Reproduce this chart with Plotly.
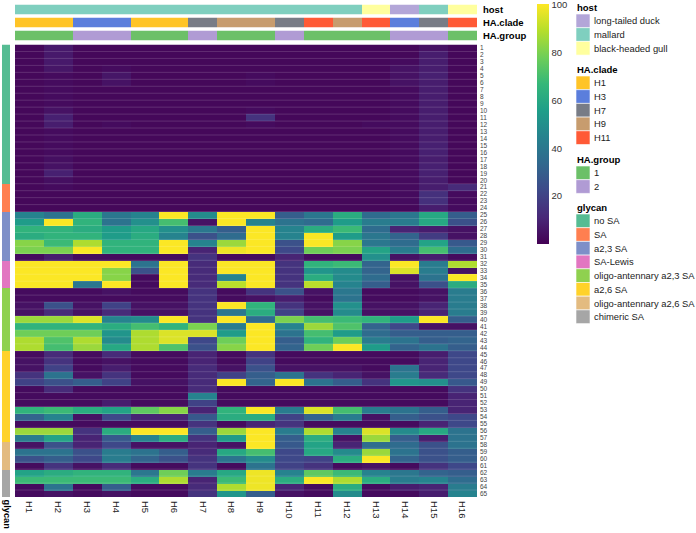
import plotly.graph_objects as go

W, H = 696, 533
FONT = "Liberation Sans, Arial, Helvetica, sans-serif"

columns = [f"H{i}" for i in range(1, 17)]
row_ids = list(range(1, 66))

host_levels = ["long-tailed duck", "mallard", "black-headed gull"]
host_colors = ["#B3A6D8", "#7FCFBF", "#FFFF9E"]
host_per_col = ["mallard"] * 12 + ["black-headed gull", "long-tailed duck", "mallard", "black-headed gull"]

clade_levels = ["H1", "H3", "H7", "H9", "H11"]
clade_colors = ["#FFC427", "#5B7EDC", "#787C86", "#C79C6E", "#FF5A36"]
clade_per_col = ["H1", "H1", "H3", "H3", "H1", "H1", "H7", "H9", "H9", "H7",
                 "H11", "H9", "H11", "H3", "H7", "H11"]

group_levels = ["1", "2"]
group_colors = ["#6CC068", "#B09BD4"]
group_per_col = ["1", "1", "2", "2", "1", "1", "2", "1", "1", "2",
                 "1", "1", "1", "2", "2", "1"]

glycan_levels = ["no SA", "SA", "a2,3 SA", "SA-Lewis", "oligo-antennary a2,3 SA",
                 "a2,6 SA", "oligo-antennary a2,6 SA", "chimeric SA"]
glycan_colors = ["#56BC93", "#FF7F50", "#7E8FC8", "#E276C1", "#8FD14F",
                 "#FFD22A", "#E3BB80", "#A6A6A6"]
glycan_counts = [20, 4, 7, 4, 9, 13, 4, 4]

values = [
    [2, 7, 2, 2, 2, 2, 2, 2, 2, 2, 2, 2, 2, 2, 5, 2],
    [2, 7, 2, 2, 2, 2, 2, 2, 2, 2, 2, 2, 2, 2, 8, 2],
    [2, 7, 2, 2, 2, 2, 2, 2, 2, 2, 2, 2, 2, 3, 8, 2],
    [2, 6, 2, 3, 2, 2, 2, 2, 2, 2, 2, 2, 2, 5, 8, 2],
    [2, 3, 2, 6, 2, 2, 2, 2, 3, 2, 2, 2, 2, 5, 9, 2],
    [2, 3, 2, 5, 2, 2, 2, 2, 3, 2, 2, 2, 2, 5, 8, 2],
    [2, 3, 2, 2, 2, 2, 2, 2, 2, 2, 2, 2, 2, 3, 8, 2],
    [2, 3, 2, 2, 2, 2, 2, 2, 2, 2, 2, 2, 2, 3, 8, 2],
    [2, 3, 2, 2, 2, 2, 2, 2, 2, 2, 2, 2, 2, 3, 8, 2],
    [2, 5, 2, 2, 2, 2, 2, 2, 3, 2, 2, 2, 2, 3, 8, 2],
    [2, 9, 2, 2, 2, 2, 2, 2, 15, 2, 2, 2, 2, 3, 8, 2],
    [2, 8, 2, 3, 2, 2, 2, 2, 3, 2, 2, 2, 3, 3, 8, 2],
    [2, 3, 2, 2, 2, 2, 2, 2, 2, 2, 2, 2, 2, 3, 8, 2],
    [2, 3, 2, 2, 2, 2, 2, 2, 2, 2, 2, 2, 2, 3, 8, 2],
    [2, 3, 2, 2, 2, 2, 2, 2, 2, 2, 2, 2, 2, 3, 9, 2],
    [2, 3, 2, 2, 2, 2, 2, 2, 2, 2, 2, 2, 2, 3, 9, 2],
    [2, 4, 2, 2, 2, 2, 2, 2, 2, 2, 2, 2, 2, 3, 8, 2],
    [2, 5, 2, 2, 2, 2, 2, 2, 2, 2, 2, 2, 2, 3, 9, 2],
    [2, 9, 2, 2, 2, 2, 2, 2, 2, 2, 2, 2, 2, 3, 9, 2],
    [2, 4, 2, 2, 2, 2, 2, 2, 2, 2, 2, 2, 2, 3, 8, 2],
    [2, 3, 2, 2, 2, 2, 2, 2, 2, 2, 2, 2, 2, 3, 8, 12],
    [2, 2, 2, 2, 2, 2, 2, 2, 2, 2, 2, 2, 2, 3, 14, 3],
    [2, 2, 2, 2, 2, 2, 2, 2, 2, 2, 2, 2, 2, 3, 14, 3],
    [2, 2, 2, 2, 2, 2, 2, 2, 2, 2, 2, 2, 2, 2, 8, 3],
    [45, 38, 62, 40, 45, 100, 48, 100, 100, 30, 40, 62, 35, 40, 60, 30],
    [55, 100, 65, 38, 50, 70, 5, 100, 45, 38, 35, 55, 42, 42, 60, 25],
    [65, 65, 62, 55, 60, 50, 40, 30, 100, 45, 62, 68, 35, 10, 8, 5],
    [62, 65, 65, 55, 62, 45, 25, 35, 100, 45, 100, 55, 40, 32, 18, 5],
    [82, 68, 88, 65, 65, 100, 45, 85, 100, 25, 100, 82, 40, 35, 58, 28],
    [80, 80, 100, 65, 65, 100, 10, 98, 100, 22, 78, 80, 58, 42, 70, 35],
    [3, 8, 3, 3, 3, 3, 15, 3, 3, 10, 3, 3, 50, 5, 8, 3],
    [100, 100, 100, 100, 38, 100, 12, 100, 100, 15, 65, 68, 32, 100, 42, 88],
    [100, 100, 100, 82, 25, 100, 12, 100, 100, 15, 52, 48, 32, 95, 42, 5],
    [100, 100, 100, 82, 3, 100, 12, 45, 100, 15, 62, 48, 35, 5, 38, 100],
    [100, 100, 40, 100, 3, 100, 12, 90, 100, 15, 90, 45, 30, 5, 25, 62],
    [3, 3, 3, 5, 3, 3, 15, 3, 15, 25, 5, 40, 3, 3, 5, 42],
    [3, 3, 3, 3, 3, 3, 15, 3, 5, 8, 3, 38, 3, 3, 5, 42],
    [5, 25, 5, 20, 5, 5, 15, 100, 65, 15, 5, 50, 5, 5, 10, 42],
    [5, 12, 5, 12, 5, 5, 15, 40, 62, 20, 5, 48, 5, 5, 10, 42],
    [85, 85, 95, 45, 48, 100, 15, 100, 35, 80, 70, 68, 65, 55, 100, 30],
    [65, 65, 65, 62, 70, 65, 80, 42, 100, 45, 85, 72, 32, 22, 5, 5],
    [78, 78, 78, 52, 88, 95, 95, 55, 100, 38, 70, 55, 35, 30, 30, 30],
    [88, 72, 88, 48, 88, 95, 22, 78, 100, 30, 65, 78, 42, 38, 30, 32],
    [88, 70, 85, 60, 88, 72, 25, 82, 100, 32, 78, 100, 55, 32, 38, 30],
    [3, 12, 3, 12, 3, 3, 10, 3, 15, 3, 3, 3, 3, 3, 8, 22],
    [5, 15, 3, 5, 3, 3, 10, 3, 20, 3, 3, 3, 3, 3, 10, 22],
    [5, 20, 3, 8, 3, 3, 12, 5, 25, 5, 5, 5, 3, 38, 10, 22],
    [15, 38, 5, 15, 3, 3, 12, 20, 30, 38, 15, 10, 5, 42, 12, 22],
    [20, 25, 30, 20, 5, 5, 12, 100, 32, 100, 38, 30, 15, 52, 50, 28],
    [3, 12, 3, 3, 3, 3, 12, 3, 3, 3, 3, 3, 3, 3, 3, 15],
    [3, 3, 3, 3, 3, 3, 45, 3, 3, 3, 3, 3, 3, 3, 3, 10],
    [3, 3, 3, 8, 3, 3, 20, 3, 3, 3, 3, 3, 3, 3, 3, 10],
    [65, 68, 62, 58, 75, 82, 10, 65, 100, 42, 95, 70, 42, 38, 30, 10],
    [32, 45, 5, 22, 10, 10, 28, 62, 62, 20, 32, 42, 5, 30, 25, 22],
    [3, 3, 3, 3, 3, 3, 15, 3, 10, 15, 3, 3, 3, 3, 10, 22],
    [85, 85, 15, 62, 100, 100, 30, 85, 100, 42, 88, 45, 95, 48, 60, 38],
    [42, 58, 10, 28, 45, 62, 15, 55, 100, 30, 62, 5, 85, 30, 8, 38],
    [5, 25, 10, 22, 5, 5, 10, 5, 100, 28, 58, 10, 35, 35, 25, 38],
    [38, 38, 25, 42, 38, 30, 12, 60, 70, 22, 60, 48, 85, 38, 25, 30],
    [25, 30, 22, 42, 32, 25, 15, 38, 48, 22, 20, 62, 100, 32, 25, 30],
    [3, 15, 5, 12, 3, 3, 15, 3, 38, 20, 15, 3, 5, 3, 15, 22],
    [58, 62, 65, 65, 40, 78, 42, 60, 98, 45, 75, 68, 45, 40, 32, 30],
    [68, 68, 68, 68, 62, 88, 10, 68, 98, 62, 100, 88, 62, 42, 45, 35],
    [3, 38, 3, 30, 3, 3, 12, 88, 98, 10, 3, 62, 3, 8, 10, 42],
    [3, 5, 3, 5, 3, 3, 15, 52, 30, 5, 3, 48, 3, 3, 8, 45],
]
color_ticks = [20, 40, 60, 80, 100]


def px(xp):
    return xp / W


def py(yp):
    return 1 - yp / H


def step_scale(colors):
    n = len(colors)
    sc = []
    for i, c in enumerate(colors):
        sc.append([i / n, c])
        sc.append([(i + 1) / n, c])
    return sc


fig = go.Figure()

# main heatmap
fig.add_trace(go.Heatmap(
    x=columns, y=row_ids, z=values,
    colorscale="Viridis", zmin=0, zmax=100.3,
    xaxis="x", yaxis="y", hoverinfo="skip",
    colorbar=dict(
        x=px(537), xanchor="left", y=py(4), yanchor="top",
        len=240, lenmode="pixels", thickness=12, thicknessmode="pixels",
        outlinewidth=0, tickmode="array", tickvals=color_ticks,
        ticktext=[str(t) for t in color_ticks], ticks="",
        ticklabeloverflow="allow",
        tickfont=dict(size=9.5, color="#333", family=FONT), xpad=0, ypad=0,
    ),
))

# top annotation tracks
tracks = [
    ("host", host_levels, host_colors, host_per_col, "y2"),
    ("HA.clade", clade_levels, clade_colors, clade_per_col, "y3"),
    ("HA.group", group_levels, group_colors, group_per_col, "y4"),
]
for name, levels, colors, per_col, yax in tracks:
    fig.add_trace(go.Heatmap(
        x=columns, y=[name], z=[[levels.index(v) for v in per_col]],
        colorscale=step_scale(colors), zmin=-0.5, zmax=len(levels) - 0.5,
        showscale=False, xaxis="x", yaxis=yax, hoverinfo="skip",
    ))

# left glycan track
glycan_per_row = []
for lvl, cnt in zip(glycan_levels, glycan_counts):
    glycan_per_row += [lvl] * cnt
fig.add_trace(go.Heatmap(
    x=["glycan"], y=row_ids, z=[[glycan_levels.index(g)] for g in glycan_per_row],
    colorscale=step_scale(glycan_colors), zmin=-0.5, zmax=len(glycan_levels) - 0.5,
    showscale=False, xaxis="x2", yaxis="y", hoverinfo="skip",
))

# faint row separators
shapes = []
for r in row_ids[:-1]:
    shapes.append(dict(type="line", xref="x domain", yref="y", x0=0, x1=1,
                       y0=r + 0.5, y1=r + 0.5,
                       line=dict(color="rgba(255,255,255,0.22)", width=0.7)))

annotations = []
# track labels
track_y = {"host": (4.5, 14.5), "HA.clade": (17.5, 27.5), "HA.group": (30.5, 40.5)}
for name, (a, b) in track_y.items():
    annotations.append(dict(text=f"<b>{name}</b>", x=px(481), y=py((a + b) / 2),
                            xref="paper", yref="paper", xanchor="left", yanchor="middle",
                            showarrow=False, font=dict(size=9.5, color="#000", family=FONT)))

annotations.append(dict(text="<b>glycan</b>", x=px(6.5), y=py(498), xref="paper", yref="paper",
                        xanchor="center", yanchor="top", textangle=90, showarrow=False,
                        borderpad=0,
                        font=dict(size=9.3, color="#000", family=FONT)))

# legends
legend_blocks = [
    ("host", host_levels, host_colors, 14),
    ("HA.clade", clade_levels, clade_colors, 76),
    ("HA.group", group_levels, group_colors, 166),
    ("glycan", glycan_levels, glycan_colors, 214),
]
sw = 13.7
for title, levels, colors, top in legend_blocks:
    annotations.append(dict(text=f"<b>{title}</b>", x=px(575), y=py(top - 7),
                            xref="paper", yref="paper", xanchor="left", yanchor="middle",
                            showarrow=False, font=dict(size=9.5, color="#000", family=FONT)))
    for i, (lvl, col) in enumerate(zip(levels, colors)):
        y0 = top + i * sw
        shapes.append(dict(type="rect", xref="paper", yref="paper",
                           x0=px(576), x1=px(590), y0=py(y0), y1=py(y0 + sw),
                           fillcolor=col, line=dict(color="white", width=0.6)))
        annotations.append(dict(text=lvl, x=px(592), y=py(y0 + sw / 2),
                                xref="paper", yref="paper", xanchor="left", yanchor="middle",
                                showarrow=False, font=dict(size=9.4, color="#222", family=FONT)))

hidden = dict(showticklabels=False, ticks="", showgrid=False, zeroline=False,
              showline=False, fixedrange=True)

fig.update_layout(
    width=W, height=H,
    margin=dict(l=0, r=0, t=0, b=0),
    paper_bgcolor="white", plot_bgcolor="white",
    font=dict(family=FONT, color="#222"),
    xaxis=dict(domain=[px(15), px(477)], anchor="y", side="bottom", tickangle=90,
               ticks="", showgrid=False, zeroline=False, showline=False,
               ticklabelstandoff=3,
               tickfont=dict(size=9.5, color="#222", family=FONT), fixedrange=True),
    yaxis=dict(domain=[py(497), py(44.5)], anchor="x", side="right",
               autorange="reversed", tickmode="array", tickvals=row_ids,
               ticktext=[str(r) for r in row_ids], ticks="", showgrid=False,
               zeroline=False, showline=False, ticklabelstandoff=2,
               tickfont=dict(size=6.5, color="#444", family=FONT), fixedrange=True),
    yaxis2=dict(domain=[py(14.5), py(4.5)], anchor="x", **hidden),
    yaxis3=dict(domain=[py(27.5), py(17.5)], anchor="x", **hidden),
    yaxis4=dict(domain=[py(40.5), py(30.5)], anchor="x", **hidden),
    xaxis2=dict(domain=[px(2), px(10)], anchor="y", **hidden),
    shapes=shapes,
    annotations=annotations,
)

fig.write_html("out.html", config={"displayModeBar": False},
               post_script="document.body.style.margin='0';document.body.style.padding='0';")
